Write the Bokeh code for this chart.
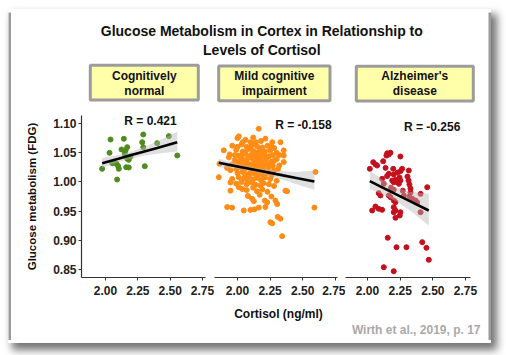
from bokeh.plotting import figure
from bokeh.layouts import row, column
from bokeh.models import Range1d, Label, BoxAnnotation, FixedTicker, NumeralTickFormatter
from bokeh.embed import file_html
from bokeh.resources import INLINE

FONT = "Liberation Sans"

# ---------------- data ----------------
groups = ["Cognitively|normal", "Mild cognitive|impairment", "Alzheimer's|disease"]
r_values = ["R = 0.421", "R = -0.158", "R = -0.256"]
x_ticks = [2.0, 2.25, 2.5, 2.75]
y_ticks = [0.85, 0.90, 0.95, 1.00, 1.05, 1.10]

cn_cortisol = [1.974, 2.031, 2.039, 2.052, 2.064, 2.090, 2.085, 2.098, 2.103, 2.124, 2.155, 2.168, 2.142,
               2.149, 2.168, 2.180, 2.160, 2.180, 2.193, 2.292, 2.284, 2.292, 2.304, 2.400, 2.490, 2.555]
cn_fdg = [1.0224, 1.0498, 1.0726, 1.032, 1.0337, 1.004, 1.031, 1.027, 1.0224, 1.0555, 1.0538, 1.0594, 1.0738,
          1.048, 1.0396, 1.0378, 1.0252, 1.0247, 1.0435, 1.0812, 1.068, 1.0594, 1.0269, 1.0663, 1.0783, 1.0452]

mci_cortisol = [
    2.010, 2.000, 2.061, 2.099, 2.163, 2.214, 2.266, 2.329, 2.120, 2.180,
    1.960, 2.030, 2.070, 2.110, 2.150, 2.190, 2.230, 2.280,
    1.895, 1.990, 2.040, 2.080, 2.120, 2.150, 2.170, 2.210, 2.250, 2.354, 2.300,
    1.940, 2.010, 2.050, 2.090, 2.110, 2.140, 2.170, 2.200, 2.240, 2.270, 2.354,
    1.934, 1.980, 2.030, 2.060, 2.080, 2.120, 2.150, 2.180, 2.220, 2.260, 2.300,
    1.862, 1.960, 2.000, 2.040, 2.070, 2.100, 2.130, 2.160, 2.190, 2.230, 2.270, 2.354,
    1.920, 1.990, 2.020, 2.050, 2.080, 2.110, 2.140, 2.170, 2.200, 2.240, 2.280, 2.310,
    1.946, 2.000, 2.040, 2.070, 2.100, 2.130, 2.160, 2.190, 2.220, 2.260, 2.597,
    1.857, 1.959, 2.010, 2.050, 2.090, 2.120, 2.150, 2.180, 2.210, 2.250, 2.300,
    1.946, 1.990, 2.030, 2.070, 2.110, 2.140, 2.176, 2.200, 2.240, 2.280,
    1.946, 2.010, 2.036, 2.070, 2.120, 2.150, 2.190, 2.230, 2.367, 2.380,
    2.112, 2.125, 2.209, 2.227, 2.291, 2.304, 2.080, 2.170, 2.260,
    1.921, 1.959, 2.048, 2.099, 2.130, 2.163, 2.214, 2.589,
    2.308, 2.329, 2.252, 2.266, 2.342,
    2.060, 2.100, 2.130, 2.160, 2.090, 2.120, 2.060, 2.180, 2.140, 2.020, 2.190, 2.220, 2.100,
    2.050, 2.150, 2.200, 2.080, 2.240, 1.980, 2.260, 2.280, 2.320, 2.000, 2.040, 2.140, 2.320]
mci_fdg = [
    1.078, 1.075, 1.072, 1.068, 1.091, 1.074, 1.068, 1.068, 1.076, 1.070,
    1.062, 1.064, 1.060, 1.063, 1.061, 1.059, 1.062, 1.058,
    1.054, 1.055, 1.052, 1.056, 1.053, 1.050, 1.055, 1.052, 1.054, 1.054, 1.050,
    1.047, 1.045, 1.048, 1.044, 1.047, 1.045, 1.043, 1.047, 1.044, 1.046, 1.045,
    1.042, 1.038, 1.040, 1.037, 1.041, 1.039, 1.036, 1.040, 1.038, 1.035, 1.039,
    1.031, 1.030, 1.033, 1.031, 1.034, 1.030, 1.032, 1.029, 1.033, 1.030, 1.028, 1.034,
    1.024, 1.022, 1.025, 1.021, 1.026, 1.023, 1.020, 1.024, 1.021, 1.025, 1.020, 1.022,
    1.020, 1.015, 1.017, 1.013, 1.016, 1.014, 1.018, 1.012, 1.015, 1.011, 1.017,
    1.008, 1.005, 1.008, 1.006, 1.009, 1.004, 1.007, 1.003, 1.008, 1.005, 1.002,
    0.999, 0.997, 1.000, 0.996, 0.999, 0.995, 0.994, 0.998, 0.996, 0.993,
    0.985, 0.991, 0.988, 0.986, 0.990, 0.984, 0.987, 0.983, 0.985, 0.984,
    0.971, 0.967, 0.968, 0.965, 0.968, 0.962, 0.976, 0.978, 0.975,
    0.957, 0.956, 0.951, 0.952, 0.953, 0.956, 0.957, 0.956,
    0.940, 0.937, 0.931, 0.929, 0.907,
    1.050, 1.042, 1.049, 1.038, 1.028, 1.018, 1.010, 1.030, 1.026, 1.036, 1.050, 1.043, 1.058,
    1.028, 1.012, 1.028, 1.000, 1.016, 1.046, 1.060, 1.036, 1.028, 1.060, 1.068, 1.068, 1.046]

ad_cortisol = [2.151, 2.163, 2.176, 2.145, 2.252, 2.044, 2.061, 2.074, 2.120, 2.018, 2.138, 2.197, 2.252,
               2.265, 2.316, 2.163, 2.201, 2.230, 2.245, 2.306, 2.314, 2.321, 2.329, 2.329, 2.321, 2.189,
               2.201, 2.214, 2.227, 2.240, 2.252, 2.112, 2.125, 2.201, 2.086, 2.099, 2.163, 2.176, 2.278,
               2.342, 2.367, 2.380, 2.406, 2.457, 2.201, 2.214, 2.406, 2.061, 2.086, 2.112, 2.036, 2.201,
               2.214, 2.201, 2.252, 2.247, 2.214, 2.155, 2.419, 2.222, 2.298, 2.451, 2.469, 2.125, 2.201,
               2.180, 2.270, 2.150]
ad_fdg = [1.049, 1.047, 1.050, 1.045, 1.0435, 1.0337, 1.030, 1.028, 1.0354, 1.0224, 1.024, 1.0224, 1.0183,
          1.0224, 1.0195, 1.0139, 1.0127, 1.016, 1.0075, 1.0092, 1.0024, 0.9955, 0.9887, 0.9818, 0.975, 1.0024,
          0.9995, 1.0036, 0.9995, 0.9967, 1.0024, 1.0053, 0.9967, 0.9865, 0.9807, 0.9767, 0.9767, 0.9738, 0.9767,
          0.9711, 0.9682, 0.9652, 0.9796, 0.9909, 0.9682, 0.9652, 0.9481, 0.9579, 0.9539, 0.9522, 0.951, 0.9567,
          0.951, 0.9481, 0.9481, 0.9425, 0.9385, 0.9043, 0.8968, 0.8882, 0.8882, 0.8872, 0.8666, 0.8539, 0.8471,
          0.990, 0.985, 1.010]

# fitted lines with confidence bands
cn_fit_x = [1.974, 2.1, 2.2, 2.3, 2.4, 2.555]
cn_fit_y = [1.032, 1.0398, 1.046, 1.052, 1.058, 1.068]
cn_fit_lo = [1.024, 1.034, 1.040, 1.045, 1.048, 1.052]
cn_fit_hi = [1.041, 1.046, 1.052, 1.060, 1.069, 1.086]

mci_fit_x = [1.857, 2.0, 2.15, 2.3, 2.45, 2.589]
mci_fit_y = [1.0327, 1.0265, 1.0199, 1.0133, 1.0068, 1.0007]
mci_fit_lo = [1.025, 1.022, 1.016, 1.007, 0.996, 0.9865]
mci_fit_hi = [1.0395, 1.031, 1.024, 1.019, 1.017, 1.0195]

ad_fit_x = [2.018, 2.12, 2.22, 2.32, 2.469]
ad_fit_y = [1.0012, 0.9898, 0.9787, 0.9676, 0.951]
ad_fit_lo = [0.988, 0.978, 0.967, 0.952, 0.9253]
ad_fit_hi = [1.0195, 1.003, 0.991, 0.983, 0.9796]

colors = ["#4e8c1e", "#ff8c14", "#c4101c"]
BORDER = "#9a9a9a"

# ---------------- helpers ----------------
def blank(w, h, fill="white"):
    f = figure(width=w, height=h, x_range=Range1d(0, w), y_range=Range1d(h, 0),
               toolbar_location=None, output_backend="svg", x_axis_location=None,
               y_axis_location=None, min_border=0, outline_line_color=None)
    f.grid.visible = False
    f.title.visible = False
    f.background_fill_color = fill
    f.border_fill_color = fill
    return f

# ---------------- top area (title + group boxes) ----------------
top = blank(477, 100)
for txt, yy in [("Glucose Metabolism in Cortex in Relationship to", 18.7), ("Levels of Cortisol", 37.0)]:
    top.add_layout(Label(x=250.3, y=yy, text=txt, text_align="center", text_baseline="middle",
                         text_font=FONT, text_font_style="bold", text_font_size="14px", text_color="#111111"))

boxes = [(78.8, 186.8, 52.8, 87.5), (207.2, 318.5, 53.5, 88.2), (344.8, 461.8, 53.8, 88.5)]
for (l, r, t, b), g in zip(boxes, groups):
    top.add_layout(BoxAnnotation(left=l, right=r, top=t, bottom=b, fill_color="#FFFFAA", fill_alpha=1.0,
                                 line_color="#9c9c9c", line_width=3, line_alpha=1.0))
    cx = (l + r) / 2
    for i, part in enumerate(g.split("|")):
        top.add_layout(Label(x=cx, y=63.0 + 15.7 * i, text=part, text_align="center", text_baseline="middle",
                             text_font=FONT, text_font_style="bold", text_font_size="12px",
                             text_color="#111111"))

# ---------------- scatter panels ----------------
y_range = (0.8363, 1.1137)
specs = [
    dict(w=203, mbl=70, mbr=9, xr=(1.8144, 2.7734), xs=cn_cortisol, ys=cn_fdg,
         fx=cn_fit_x, fy=cn_fit_y, lo=cn_fit_lo, hi=cn_fit_hi, rx=2.348, ry=1.105),
    dict(w=131, mbl=0, mbr=8, xr=(1.824, 2.766), xs=mci_cortisol, ys=mci_fdg,
         fx=mci_fit_x, fy=mci_fit_y, lo=mci_fit_lo, hi=mci_fit_hi, rx=2.505, ry=1.0966),
    dict(w=143, mbl=0, mbr=18, xr=(1.832, 2.788), xs=ad_cortisol, ys=ad_fdg,
         fx=ad_fit_x, fy=ad_fit_y, lo=ad_fit_lo, hi=ad_fit_hi, rx=2.495, ry=1.0943),
]

panels = []
for i, s in enumerate(specs):
    p = figure(width=s["w"], height=190, x_range=Range1d(*s["xr"]), y_range=Range1d(*y_range),
               min_border_left=s["mbl"], min_border_right=s["mbr"], min_border_top=3, min_border_bottom=25,
               toolbar_location=None, output_backend="svg", outline_line_color=None,
               y_axis_location="left" if i == 0 else None)
    p.grid.visible = False
    p.title.visible = False
    p.background_fill_color = "white"
    p.border_fill_color = "white"
    p.scatter(s["xs"], s["ys"], size=5, color=colors[i], alpha=1.0)
    p.varea(x=s["fx"], y1=s["lo"], y2=s["hi"], fill_color="#b8b8b8", fill_alpha=0.45)
    p.line(s["fx"], s["fy"], line_color="black", line_width=2.6)
    p.add_layout(Label(x=s["rx"], y=s["ry"], text=r_values[i], text_align="center", text_baseline="middle",
                       text_font=FONT, text_font_style="bold", text_font_size="12px", text_color="#111111"))
    for ax in p.axis:
        ax.axis_line_color = "#333333"
        ax.axis_line_width = 1.2
        ax.major_tick_line_color = "#333333"
        ax.major_tick_out = 3
        ax.major_tick_in = 0
        ax.minor_tick_line_color = None
        ax.major_label_text_font = FONT
        ax.major_label_text_font_style = "bold"
        ax.major_label_text_font_size = "12px"
        ax.major_label_text_color = "#222222"
        ax.formatter = NumeralTickFormatter(format="0.00")
    p.xaxis.ticker = FixedTicker(ticks=x_ticks)
    p.xaxis.major_label_standoff = 5
    if i == 0:
        p.yaxis.ticker = FixedTicker(ticks=y_ticks)
        p.yaxis.major_label_standoff = 2
        p.yaxis.axis_label = "Glucose metabolism (FDG)"
        p.yaxis.axis_label_text_font = FONT
        p.yaxis.axis_label_text_font_style = "bold"
        p.yaxis.axis_label_text_font_size = "11.5px"
        p.yaxis.axis_label_text_color = "#111111"
        p.yaxis.axis_label_standoff = 12
    panels.append(p)

# ---------------- bottom area ----------------
bottom = blank(477, 38)
bottom.add_layout(Label(x=267, y=11, text="Cortisol (ng/ml)", text_align="center", text_baseline="middle",
                        text_font=FONT, text_font_style="bold", text_font_size="12px", text_color="#111111"))
bottom.add_layout(Label(x=469, y=27, text="Wirth et al., 2019, p. 17", text_align="right",
                        text_baseline="middle", text_font=FONT, text_font_style="bold",
                        text_font_size="12px", text_color="#a9a9a9"))

# ---------------- card frame (border strips) ----------------
inner = column(top, row(*panels, spacing=0), bottom, spacing=0)
card = column(
    blank(483, 3, BORDER),
    row(blank(3, 328, BORDER), inner, blank(3, 328, BORDER), spacing=0),
    blank(483, 3, BORDER),
    spacing=0,
    styles={"box-shadow": "5px 6px 8px 1px rgba(0,0,0,0.55)"},
)

# page offset so the card sits where it does in the reference
page = column(blank(491, 9), row(blank(8, 334), card, spacing=0), spacing=0)

open("out.html", "w").write(file_html(page, INLINE))
